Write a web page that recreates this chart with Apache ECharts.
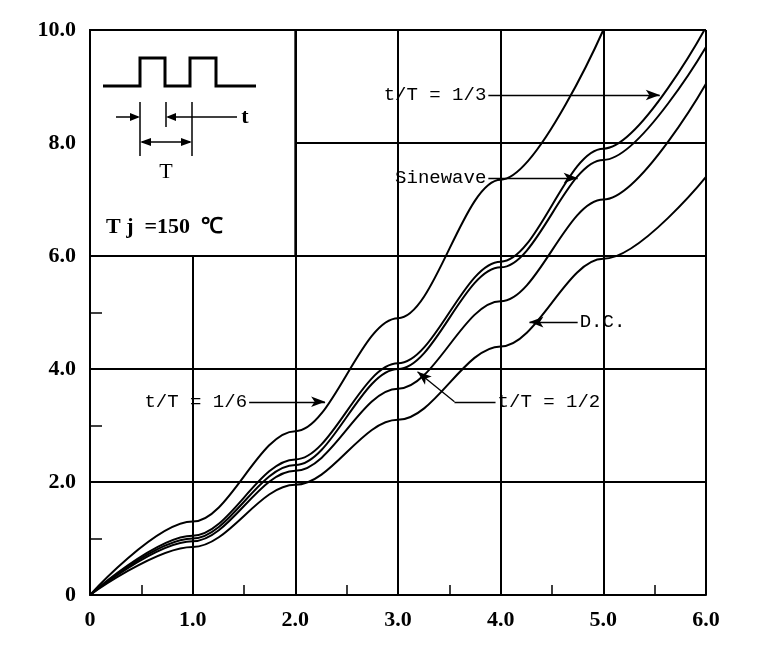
<!DOCTYPE html>
<html>
<head>
<meta charset="utf-8">
<script src="https://cdn.jsdelivr.net/npm/echarts@6/dist/echarts.min.js"></script>
<style>html,body{margin:0;padding:0;background:#fff;}#main{width:769px;height:649px;}</style>
</head>
<body>
<div id="main"></div>
<script>
var xValues = [0, 1, 2, 3, 4, 5, 6];
var sixth = [0, 1.3, 2.9, 4.9, 7.35, 10.0];
var third = [0, 1.05, 2.4, 4.1, 5.9, 7.9, 10.05];
var sine = [0, 1.0, 2.3, 4.0, 5.8, 7.7, 9.7];
var half = [0, 0.95, 2.2, 3.65, 5.2, 7.0, 9.05];
var dc = [0, 0.85, 1.95, 3.1, 4.4, 5.95, 7.4];

function pairs(vals) {
	return vals.map(function(v, i) { return [xValues[i], v]; });
}

var myChart = echarts.init(document.getElementById('main'));
var lineStyle = { color: '#000', width: 2 };
var arrowStyle = { color: '#000', width: 1.3, type: 'solid' };

function curve(name, vals) {
	return {
		name: name,
		type: 'line',
		data: pairs(vals),
		smooth: 0.35,
		smoothMonotone: 'x',
		symbol: 'none',
		lineStyle: lineStyle,
		z: 3
	};
}

var tickFont = {
	color: '#000', fontFamily: 'Liberation Serif', fontWeight: 'bold', fontSize: 22, margin: 14,
	formatter: function(v) { return v === 0 ? '0' : v.toFixed(1); }
};

var option = {
	animation: false,
	grid: { left: 90, right: 63, top: 30, bottom: 54 },
	xAxis: {
		type: 'value', min: 0, max: 6, interval: 1,
		axisLine: { lineStyle: { color: '#000', width: 2 } },
		axisTick: { show: false, inside: true },
		minorTick: { show: true, splitNumber: 2, length: 10, lineStyle: { color: '#000', width: 1.5 } },
		splitLine: { lineStyle: { color: '#000', width: 2 } },
		axisLabel: tickFont
	},
	yAxis: {
		type: 'value', min: 0, max: 10, interval: 2,
		axisLine: { show: true, lineStyle: { color: '#000', width: 2 } },
		axisTick: { show: false, inside: true },
		minorTick: { show: true, splitNumber: 2, length: 12, lineStyle: { color: '#000', width: 1.5 } },
		splitLine: { lineStyle: { color: '#000', width: 2 } },
		axisLabel: tickFont
	},
	series: [
		curve('t/T = 1/6', sixth),
		curve('t/T = 1/3', third),
		curve('Sinewave', sine),
		curve('t/T = 1/2', half),
		curve('D.C.', dc),
		{
			type: 'line', data: [], silent: true,
			markLine: {
				silent: true, symbol: ['none', 'arrow'], symbolSize: [8, 14],
				label: { show: false }, lineStyle: arrowStyle,
				data: [
					[{ coord: [3.88, 8.85] }, { coord: [5.55, 8.85] }],
					[{ coord: [3.88, 7.38] }, { coord: [4.75, 7.38] }],
					[{ coord: [4.75, 4.83] }, { coord: [4.28, 4.83] }],
					[{ coord: [1.55, 3.42] }, { coord: [2.29, 3.42] }],
					[{ coord: [3.55, 3.42] }, { coord: [3.19, 3.95] }],
					[{ coord: [3.95, 3.42], symbol: 'none' }, { coord: [3.55, 3.42], symbol: 'none' }]
				]
			}
		}
	]
};
myChart.setOption(option);

function px(x, y) { return myChart.convertToPixel({ gridIndex: 0 }, [x, y]); }
var tl = px(0, 10), br = px(2, 6);
var g = [
	{ type: 'rect', z: 2, shape: { x: tl[0], y: tl[1], width: br[0] - tl[0], height: br[1] - tl[1] },
	  style: { fill: '#fff', stroke: '#000', lineWidth: 2 } },
	{ type: 'polyline', z: 4, shape: { points: [[103, 86], [140, 86], [140, 58], [165, 58], [165, 86], [190, 86], [190, 58], [216, 58], [216, 86], [256, 86]] },
	  style: { stroke: '#000', lineWidth: 3, fill: null } },
	{ type: 'line', z: 4, shape: { x1: 140, y1: 102, x2: 140, y2: 156 }, style: { stroke: '#000', lineWidth: 1.5 } },
	{ type: 'line', z: 4, shape: { x1: 166, y1: 102, x2: 166, y2: 127 }, style: { stroke: '#000', lineWidth: 1.5 } },
	{ type: 'line', z: 4, shape: { x1: 192, y1: 102, x2: 192, y2: 156 }, style: { stroke: '#000', lineWidth: 1.5 } },
	{ type: 'line', z: 4, shape: { x1: 116, y1: 117, x2: 138, y2: 117 }, style: { stroke: '#000', lineWidth: 1.5 } },
	{ type: 'polygon', z: 4, shape: { points: [[140, 117], [130, 113], [130, 121]] }, style: { fill: '#000' } },
	{ type: 'line', z: 4, shape: { x1: 168, y1: 117, x2: 237, y2: 117 }, style: { stroke: '#000', lineWidth: 1.5 } },
	{ type: 'polygon', z: 4, shape: { points: [[166, 117], [176, 113], [176, 121]] }, style: { fill: '#000' } },
	{ type: 'text', z: 4, style: { x: 245, y: 117, text: 't', font: 'bold 22px "Liberation Serif"', fill: '#000', verticalAlign: 'middle', align: 'center' } },
	{ type: 'line', z: 4, shape: { x1: 142, y1: 142, x2: 190, y2: 142 }, style: { stroke: '#000', lineWidth: 1.5 } },
	{ type: 'polygon', z: 4, shape: { points: [[140, 142], [151, 138], [151, 146]] }, style: { fill: '#000' } },
	{ type: 'polygon', z: 4, shape: { points: [[192, 142], [181, 138], [181, 146]] }, style: { fill: '#000' } },
	{ type: 'text', z: 4, style: { x: 166, y: 172, text: 'T', font: '22px "Liberation Serif"', fill: '#000', verticalAlign: 'middle', align: 'center' } },
	{ type: 'text', z: 4, style: { x: 106, y: 227, text: 'T j  =150  ℃', font: 'bold 22px "Liberation Serif"', fill: '#000', verticalAlign: 'middle' } }
];
function label(text, x, y, align) {
	var p = px(x, y);
	g.push({ type: 'text', z: 5, style: { x: p[0], y: p[1], text: text, font: '19px "Liberation Mono"', fill: '#000', verticalAlign: 'middle', align: align } });
}
label('t/T = 1/3', 3.86, 8.85, 'right');
label('Sinewave', 3.86, 7.38, 'right');
label('D.C.', 4.77, 4.83, 'left');
label('t/T = 1/6', 1.53, 3.42, 'right');
label('t/T = 1/2', 3.97, 3.42, 'left');
myChart.setOption({ graphic: g });
</script>
</body>
</html>
